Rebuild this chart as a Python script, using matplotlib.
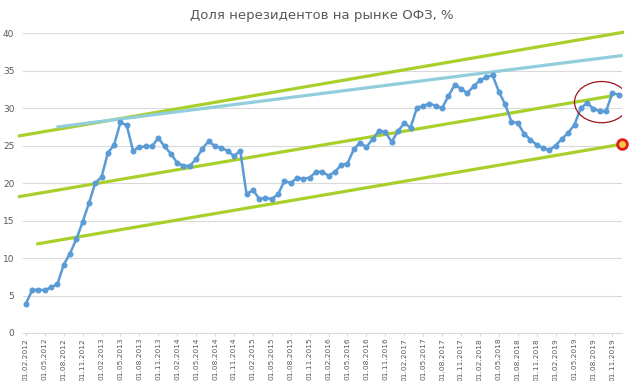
import numpy as np
import matplotlib.pyplot as plt
from matplotlib.patches import Ellipse

# monthly share of non-residents in OFZ market, Feb 2012 .. Dec 2019
share = [
    3.9, 5.7, 5.8, 5.7, 6.1, 6.5, 9.1, 10.6, 12.5, 14.8, 17.3, 20.0,
    20.8, 24.0, 25.1, 28.1, 27.7, 24.3, 24.8, 24.9, 24.9, 26.0, 24.9, 23.9,
    22.7, 22.3, 22.3, 23.2, 24.6, 25.6, 24.9, 24.7, 24.3, 23.6, 24.3, 18.5,
    19.1, 17.9, 18.0, 17.9, 18.5, 20.3, 20.0, 20.7, 20.6, 20.7, 21.5, 21.5,
    21.0, 21.5, 22.4, 22.6, 24.5, 25.4, 24.8, 25.9, 27.0, 26.8, 25.5, 26.9,
    28.0, 27.4, 30.0, 30.3, 30.6, 30.3, 30.0, 31.6, 33.1, 32.6, 32.0, 32.9,
    33.7, 34.1, 34.4, 32.2, 30.5, 28.2, 28.0, 26.6, 25.8, 25.1, 24.7, 24.4,
    25.0, 25.9, 26.7, 27.8, 30.0, 30.7, 29.9, 29.6, 29.6, 32.0, 31.8,
]

months = ['02', '05', '08', '11']
tick_labels = ['01.{}.{}'.format(months[k % 4], 2012 + k // 4) for k in range(32)]

# hand-drawn channel lines: (x start, x end) in month index, (y start, y end)
upper_x, upper_y = [-1.0, 94.6], [26.3, 40.1]
middle_x, middle_y = [-1.0, 92.7], [18.2, 31.6]
lower_x, lower_y = [1.9, 94.6], [11.9, 25.2]
resist_x, resist_y = [5.1, 94.4], [27.5, 37.0]

plt.figure(figsize=(6.3, 3.81), dpi=100)
ax = plt.axes([0.036, 0.126, 0.951, 0.787])

ax.set_ylim(0, 40)
ax.set_xlim(-0.5, len(share) - 0.5)
ax.set_yticks(range(0, 41, 5))
ax.grid(axis='y', color='#d9d9d9', linewidth=0.8)
ax.set_axisbelow(True)
for s in ['top', 'right', 'left']:
    ax.spines[s].set_visible(False)
ax.spines['bottom'].set_color('#d9d9d9')

ax.set_xticks(range(0, len(share), 3))
ax.set_xticklabels(tick_labels, rotation=90, fontsize=5.3, color='#595959')
ax.tick_params(axis='x', length=2.5, color='#d9d9d9', pad=1)
ax.tick_params(axis='y', length=0, labelsize=6.5, labelcolor='#595959', pad=6)

green = '#a8d02a'
ax.plot(upper_x, upper_y, color=green, lw=2.3, clip_on=False)
ax.plot(middle_x, middle_y, color=green, lw=2.3, clip_on=False)
ax.plot(lower_x, lower_y, color=green, lw=2.3, clip_on=False)
ax.plot(resist_x, resist_y, color='#92cddc', lw=2.3, clip_on=False)

ax.plot(range(len(share)), share, color='#5b9bd5', lw=1.8, marker='o', markersize=3.3, zorder=5)

ax.plot(lower_x[1], lower_y[1], 'o', markersize=7, markerfacecolor='#f2c84b',
        markeredgecolor='#e31a1c', markeredgewidth=2, clip_on=False, zorder=6)
ax.add_patch(Ellipse((91.3, 30.8), 8.6, 5.5, fill=False, edgecolor='#a0141e', lw=0.9, zorder=6))

ax.set_title('Доля нерезидентов на рынке ОФЗ, %', fontsize=9.5, color='#595959', pad=10)

plt.savefig('out.png', dpi=100)
